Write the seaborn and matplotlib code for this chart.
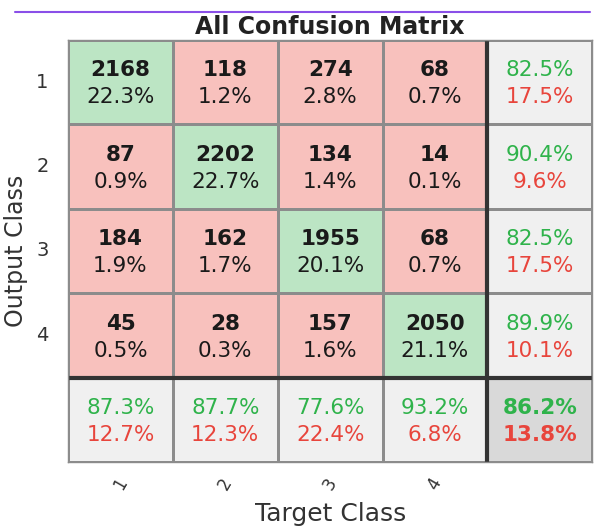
import numpy as np
import matplotlib
matplotlib.use("Agg")
import matplotlib.pyplot as plt
import seaborn as sns
from matplotlib.colors import ListedColormap
from matplotlib.lines import Line2D

classes = ["1", "2", "3", "4"]
counts = [[2168, 118, 274, 68],
          [87, 2202, 134, 14],
          [184, 162, 1955, 68],
          [45, 28, 157, 2050]]
cell_pct = [[22.3, 1.2, 2.8, 0.7],
            [0.9, 22.7, 1.4, 0.1],
            [1.9, 1.7, 20.1, 0.7],
            [0.5, 0.3, 1.6, 21.1]]
row_right = [82.5, 90.4, 82.5, 89.9]
col_right = [87.3, 87.7, 77.6, 93.2]
total_right = 86.2

sns.set_style("white")
plt.rcParams['font.family'] = ['DejaVu Sans']

n = len(classes)
# colour index for each cell: 0 correct, 1 wrong, 2 summary, 3 overall
kind = np.ones((n + 1, n + 1))
for i in range(n):
    kind[i, i] = 0
kind[n, :] = 2
kind[:, n] = 2
kind[n, n] = 3
cmap = ListedColormap(["#bce5c4", "#f8c1bd", "#f0f0f0", "#d9d9d9"])

green = "#2fb34b"
red = "#e8453c"
fs = 15.5

fig = plt.figure(figsize=(5.97, 5.31), dpi=100)
ax = fig.add_axes([0.114, 0.130, 0.878, 0.795])
sns.heatmap(kind, cmap=cmap, vmin=-0.5, vmax=3.5, cbar=False,
            linewidths=0.8, linecolor="#8c8c8c", ax=ax)

ax.axvline(n, color="#333333", lw=3)
ax.axhline(n, color="#333333", lw=3)
for s in ax.spines.values():
    s.set_visible(True)
    s.set_color("#8c8c8c")
    s.set_linewidth(1)

top, bot = 0.36, 0.68
for i in range(n):
    for j in range(n):
        ax.text(j + 0.5, i + top, str(counts[i][j]), ha="center", va="center",
                fontsize=fs, fontweight="bold", color="#1a1a1a")
        ax.text(j + 0.5, i + bot, f"{cell_pct[i][j]:.1f}%", ha="center", va="center",
                fontsize=fs, color="#1a1a1a")
    ax.text(n + 0.5, i + top, f"{row_right[i]:.1f}%", ha="center", va="center",
            fontsize=fs, color=green)
    ax.text(n + 0.5, i + bot, f"{100 - row_right[i]:.1f}%", ha="center", va="center",
            fontsize=fs, color=red)
for j in range(n):
    ax.text(j + 0.5, n + top, f"{col_right[j]:.1f}%", ha="center", va="center",
            fontsize=fs, color=green)
    ax.text(j + 0.5, n + bot, f"{100 - col_right[j]:.1f}%", ha="center", va="center",
            fontsize=fs, color=red)
ax.text(n + 0.5, n + top, f"{total_right:.1f}%", ha="center", va="center",
        fontsize=fs, fontweight="bold", color=green)
ax.text(n + 0.5, n + bot, f"{100 - total_right:.1f}%", ha="center", va="center",
        fontsize=fs, fontweight="bold", color=red)

ax.set_xticks(np.arange(n) + 0.5)
ax.set_xticklabels(classes, rotation=60, fontsize=12, color="#333333")
ax.set_yticks(np.arange(n) + 0.5)
ax.set_yticklabels(classes, rotation=0, fontsize=14, color="#333333")
ax.tick_params(axis="x", length=0, pad=9)
ax.tick_params(axis="y", length=0, pad=14)
ax.set_xlabel("Target Class", fontsize=18, color="#333333", labelpad=7)
ax.set_ylabel("Output Class", fontsize=17, color="#333333", labelpad=6)
ax.set_title("All Confusion Matrix", fontsize=17, fontweight="bold",
             color="#222222", pad=4.5)

fig.add_artist(Line2D([0.025, 0.988], [0.978, 0.978], color="#8a4fe8", lw=1.5))

fig.savefig("out.png", dpi=100)
